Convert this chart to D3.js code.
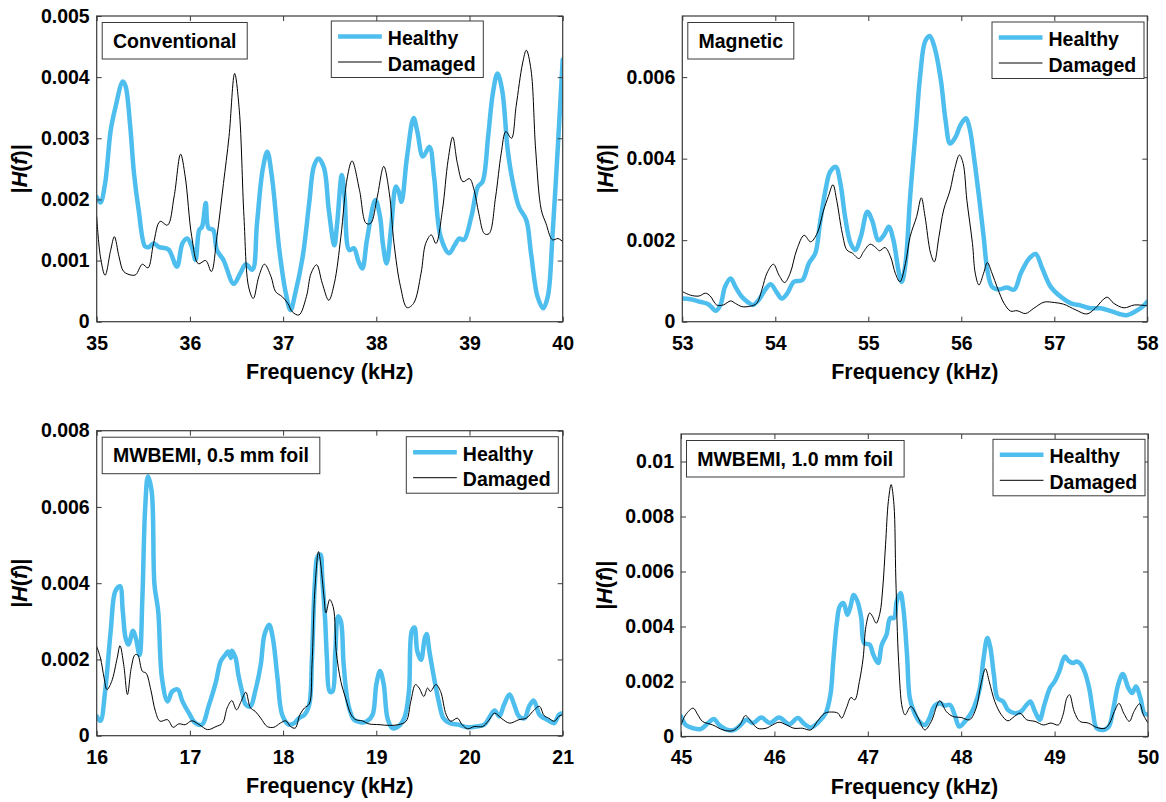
<!DOCTYPE html>
<html>
<head>
<meta charset="utf-8">
<script src="https://cdn.jsdelivr.net/npm/d3@7"></script>
<style>
  html, body { margin: 0; padding: 0; background: #fff; }
  svg { display: block; }
  text { font-family: "Liberation Sans", Arial, Helvetica, sans-serif; font-weight: bold; fill: #000; }
</style>
</head>
<body>
<svg id="chart" width="1166" height="802"></svg>
<script>
// ---------- Data (frequency in kHz, |H(f)| in units of 1e-3) ----------
const seriesNames = ["Healthy", "Damaged"];
const panelTitles = ["Conventional", "Magnetic", "MWBEMI, 0.5 mm foil", "MWBEMI, 1.0 mm foil"];
const xDomains = [[35, 40], [53, 58], [16, 21], [45, 50]];
const yMaxima = [0.005, 0.0075, 0.008, 0.011];
const xTickValues = [[35,36,37,38,39,40],[53,54,55,56,57,58],[16,17,18,19,20,21],[45,46,47,48,49,50]];
const yTickValues = [
  [0, 0.001, 0.002, 0.003, 0.004, 0.005],
  [0, 0.002, 0.004, 0.006],
  [0, 0.002, 0.004, 0.006, 0.008],
  [0, 0.002, 0.004, 0.006, 0.008, 0.01]
];
const xLabel = "Frequency (kHz)";

const convHealthy = [[35.0,2.04],[35.04,1.95],[35.09,2.26],[35.15,3.13],[35.2,3.5],[35.28,3.93],[35.31,3.85],[35.36,3.19],[35.4,2.43],[35.45,1.83],[35.52,1.23],[35.56,1.22],[35.61,1.28],[35.67,1.22],[35.77,1.18],[35.86,0.90],[35.92,1.28],[35.97,1.36],[36.02,1.23],[36.06,1.01],[36.1,1.5],[36.13,1.55],[36.17,1.94],[36.2,1.53],[36.25,1.5],[36.29,1.17],[36.36,1.01],[36.47,0.62],[36.54,0.79],[36.6,0.94],[36.67,0.85],[36.72,1.61],[36.78,2.48],[36.83,2.78],[36.88,2.37],[36.96,1.17],[37.03,0.46],[37.08,0.19],[37.13,0.46],[37.21,1.06],[37.28,1.94],[37.33,2.54],[37.38,2.67],[37.44,2.51],[37.49,1.83],[37.55,1.25],[37.58,1.61],[37.63,2.4],[37.66,2.04],[37.71,1.17],[37.76,1.2],[37.81,0.98],[37.85,0.87],[37.9,1.34],[37.99,1.99],[38.04,1.72],[38.07,1.28],[38.11,0.95],[38.16,1.55],[38.21,2.21],[38.24,2.13],[38.27,1.96],[38.33,2.7],[38.4,3.33],[38.44,3.11],[38.5,2.7],[38.57,2.86],[38.62,2.37],[38.69,1.39],[38.78,1.12],[38.84,1.25],[38.89,1.36],[38.94,1.34],[39.02,1.72],[39.09,2.21],[39.14,2.29],[39.2,3.03],[39.25,3.73],[39.3,4.06],[39.35,3.79],[39.41,2.81],[39.46,2.32],[39.53,1.88],[39.61,1.66],[39.66,1.12],[39.73,0.41],[39.79,0.22],[39.84,0.41],[39.89,1.39],[39.95,2.92],[40.0,4.29]];
const convDamaged = [[35.0,1.72],[35.04,1.06],[35.09,0.76],[35.15,1.17],[35.19,1.39],[35.24,1.06],[35.29,0.82],[35.38,0.76],[35.42,0.77],[35.49,0.94],[35.55,0.88],[35.61,1.28],[35.68,1.64],[35.76,1.58],[35.83,2.04],[35.9,2.74],[35.95,2.37],[36.02,1.39],[36.09,0.95],[36.17,1.0],[36.23,0.82],[36.29,1.39],[36.36,2.26],[36.42,3.03],[36.48,4.06],[36.53,3.46],[36.58,1.72],[36.63,0.57],[36.68,0.38],[36.74,0.74],[36.8,0.94],[36.87,0.74],[36.92,0.49],[36.99,0.41],[37.05,0.3],[37.1,0.16],[37.17,0.11],[37.25,0.41],[37.3,0.79],[37.36,0.93],[37.42,0.63],[37.49,0.35],[37.55,0.63],[37.62,1.39],[37.69,2.37],[37.74,2.63],[37.82,2.15],[37.89,1.61],[37.94,1.61],[38.01,2.04],[38.08,2.54],[38.14,2.1],[38.19,1.28],[38.26,0.57],[38.33,0.23],[38.4,0.3],[38.48,0.79],[38.53,1.28],[38.59,1.42],[38.64,1.28],[38.71,1.83],[38.77,2.64],[38.82,3.02],[38.87,2.59],[38.93,2.29],[39.0,2.34],[39.05,2.15],[39.1,1.77],[39.16,1.44],[39.21,1.44],[39.28,2.04],[39.34,2.75],[39.39,3.11],[39.45,3.0],[39.5,3.52],[39.57,4.23],[39.61,4.44],[39.66,4.12],[39.71,2.81],[39.77,1.83],[39.82,1.61],[39.89,1.34],[39.95,1.36],[40.0,1.31]];

const magHealthy = [[53.0,0.57],[53.09,0.55],[53.19,0.49],[53.28,0.43],[53.36,0.27],[53.41,0.41],[53.46,0.86],[53.52,1.06],[53.57,0.86],[53.64,0.61],[53.71,0.47],[53.76,0.41],[53.82,0.53],[53.89,0.78],[53.95,0.92],[54.01,0.74],[54.07,0.57],[54.13,0.7],[54.2,0.98],[54.29,1.02],[54.36,1.43],[54.43,1.68],[54.48,2.41],[54.54,3.23],[54.59,3.68],[54.65,3.8],[54.7,3.39],[54.75,2.58],[54.81,1.92],[54.86,1.76],[54.92,2.09],[54.99,2.7],[55.04,2.49],[55.11,2.0],[55.17,2.13],[55.22,2.33],[55.27,2.0],[55.33,1.19],[55.36,0.98],[55.4,1.43],[55.45,3.07],[55.51,4.7],[55.56,6.09],[55.61,6.87],[55.66,7.01],[55.71,6.75],[55.78,5.93],[55.83,4.95],[55.88,4.37],[55.94,4.54],[55.99,4.82],[56.05,4.99],[56.09,4.74],[56.14,3.97],[56.19,3.07],[56.24,2.09],[56.28,1.27],[56.33,0.86],[56.4,0.79],[56.49,0.84],[56.57,0.79],[56.64,1.19],[56.73,1.55],[56.8,1.66],[56.87,1.31],[56.96,0.86],[57.07,0.61],[57.18,0.45],[57.28,0.4],[57.39,0.33],[57.5,0.33],[57.61,0.26],[57.7,0.19],[57.78,0.16],[57.87,0.25],[57.95,0.37],[58.0,0.49]];
const magDamaged = [[53.0,0.74],[53.09,0.65],[53.18,0.63],[53.25,0.7],[53.3,0.63],[53.37,0.41],[53.44,0.41],[53.52,0.51],[53.57,0.45],[53.64,0.37],[53.73,0.38],[53.8,0.45],[53.86,0.82],[53.91,1.19],[53.98,1.41],[54.04,1.14],[54.1,0.96],[54.16,1.19],[54.23,1.76],[54.31,2.12],[54.38,1.96],[54.45,2.17],[54.52,2.74],[54.57,3.07],[54.62,3.36],[54.66,2.98],[54.72,2.17],[54.77,1.76],[54.83,1.68],[54.9,1.55],[54.95,1.72],[55.02,1.9],[55.08,1.82],[55.12,1.74],[55.18,1.82],[55.24,1.59],[55.29,1.19],[55.34,0.98],[55.4,1.43],[55.45,2.09],[55.52,2.58],[55.57,3.04],[55.61,2.58],[55.67,1.68],[55.71,1.47],[55.76,2.09],[55.81,2.74],[55.88,3.23],[55.93,3.76],[55.98,4.09],[56.02,3.88],[56.06,2.98],[56.12,1.92],[56.15,1.19],[56.19,0.9],[56.24,1.19],[56.28,1.45],[56.33,1.19],[56.39,0.82],[56.46,0.45],[56.53,0.26],[56.6,0.27],[56.69,0.2],[56.78,0.33],[56.89,0.48],[57.0,0.47],[57.1,0.43],[57.23,0.29],[57.35,0.19],[57.44,0.33],[57.52,0.53],[57.57,0.6],[57.64,0.45],[57.75,0.34],[57.86,0.41],[58.0,0.39]];

const foil05Healthy = [[16.0,0.51],[16.04,0.39],[16.09,1.16],[16.15,2.74],[16.2,3.79],[16.25,3.92],[16.28,3.26],[16.31,2.56],[16.34,2.39],[16.39,2.75],[16.42,2.56],[16.46,2.12],[16.49,3.61],[16.52,5.97],[16.55,6.8],[16.59,6.41],[16.62,3.96],[16.66,3.26],[16.7,1.51],[16.76,0.9],[16.81,1.16],[16.87,1.21],[16.92,0.9],[16.99,0.59],[17.06,0.33],[17.13,0.29],[17.2,0.77],[17.28,1.42],[17.33,1.95],[17.38,2.12],[17.41,2.21],[17.44,2.04],[17.45,2.23],[17.49,2.04],[17.52,1.6],[17.56,1.16],[17.6,0.81],[17.65,0.77],[17.7,1.16],[17.76,1.86],[17.8,2.65],[17.85,2.91],[17.89,2.56],[17.94,1.51],[17.99,0.55],[18.06,0.29],[18.12,0.33],[18.17,0.46],[18.23,0.55],[18.28,0.81],[18.31,2.04],[18.34,3.96],[18.37,4.7],[18.4,4.75],[18.42,4.13],[18.45,3.09],[18.47,2.04],[18.5,1.16],[18.53,1.16],[18.56,2.21],[18.59,3.13],[18.62,3.0],[18.65,1.86],[18.7,0.81],[18.76,0.42],[18.83,0.35],[18.9,0.38],[18.96,0.55],[19.0,1.34],[19.04,1.7],[19.08,1.34],[19.12,0.46],[19.17,0.2],[19.23,0.23],[19.3,0.46],[19.35,1.16],[19.38,2.74],[19.41,2.84],[19.44,2.21],[19.48,1.99],[19.52,2.56],[19.54,2.67],[19.57,2.21],[19.62,1.51],[19.67,0.9],[19.72,0.46],[19.79,0.33],[19.88,0.29],[19.98,0.22],[20.07,0.24],[20.16,0.29],[20.22,0.51],[20.27,0.66],[20.32,0.51],[20.37,0.81],[20.43,1.08],[20.48,0.81],[20.53,0.51],[20.59,0.46],[20.64,0.77],[20.69,0.92],[20.75,0.55],[20.8,0.46],[20.86,0.38],[20.91,0.33],[20.96,0.55],[21.0,0.59]];
const foil05Damaged = [[16.0,2.34],[16.04,2.04],[16.08,1.51],[16.11,1.21],[16.16,1.42],[16.22,2.04],[16.25,2.36],[16.29,1.86],[16.33,1.08],[16.37,1.77],[16.41,2.12],[16.44,2.12],[16.49,1.69],[16.53,1.64],[16.58,1.21],[16.63,0.64],[16.68,0.38],[16.76,0.42],[16.82,0.22],[16.88,0.31],[16.95,0.29],[17.02,0.39],[17.1,0.29],[17.19,0.16],[17.28,0.24],[17.35,0.33],[17.4,0.73],[17.45,0.92],[17.5,0.68],[17.55,0.9],[17.6,1.14],[17.65,0.73],[17.7,0.64],[17.76,0.46],[17.83,0.24],[17.9,0.22],[17.97,0.33],[18.03,0.39],[18.08,0.24],[18.13,0.2],[18.18,0.55],[18.23,0.73],[18.28,0.83],[18.31,1.86],[18.34,3.79],[18.38,4.83],[18.4,4.57],[18.44,3.61],[18.46,3.22],[18.5,3.57],[18.54,3.35],[18.57,2.21],[18.62,1.42],[18.67,0.99],[18.73,0.55],[18.78,0.42],[18.85,0.39],[18.92,0.31],[19.03,0.29],[19.14,0.27],[19.24,0.29],[19.32,0.38],[19.37,0.9],[19.42,1.34],[19.46,1.25],[19.51,1.03],[19.55,1.25],[19.58,1.16],[19.64,1.34],[19.69,1.16],[19.75,0.55],[19.8,0.38],[19.87,0.46],[19.92,0.29],[19.98,0.18],[20.05,0.24],[20.14,0.24],[20.2,0.38],[20.27,0.59],[20.34,0.46],[20.43,0.33],[20.53,0.42],[20.61,0.46],[20.68,0.64],[20.75,0.77],[20.8,0.53],[20.85,0.46],[20.91,0.38],[20.96,0.51],[21.0,0.55]];

const foil10Healthy = [[45.0,0.73],[45.05,0.42],[45.13,0.3],[45.21,0.27],[45.29,0.49],[45.35,0.64],[45.41,0.42],[45.5,0.24],[45.57,0.24],[45.64,0.42],[45.7,0.61],[45.77,0.49],[45.86,0.69],[45.95,0.49],[46.05,0.69],[46.16,0.45],[46.25,0.67],[46.32,0.46],[46.39,0.33],[46.48,0.55],[46.55,0.85],[46.6,1.52],[46.63,2.73],[46.67,4.18],[46.7,4.73],[46.74,4.85],[46.78,4.43],[46.81,4.67],[46.85,5.15],[46.89,4.91],[46.93,4.31],[46.96,3.4],[47.02,3.34],[47.06,2.97],[47.11,2.67],[47.15,3.34],[47.2,3.7],[47.24,4.31],[47.28,4.31],[47.31,4.91],[47.35,5.22],[47.38,4.67],[47.42,2.97],[47.45,1.39],[47.5,0.85],[47.55,0.55],[47.61,0.42],[47.66,0.67],[47.71,1.09],[47.77,1.21],[47.82,1.13],[47.88,1.15],[47.93,0.79],[47.98,0.36],[48.04,0.55],[48.09,0.76],[48.14,1.09],[48.2,1.76],[48.24,2.85],[48.28,3.58],[48.31,3.27],[48.35,2.24],[48.39,1.39],[48.45,1.27],[48.5,0.97],[48.57,0.85],[48.64,0.91],[48.7,1.15],[48.74,1.27],[48.79,0.91],[48.84,0.61],[48.89,1.15],[48.95,1.76],[49.0,2.0],[49.05,2.37],[49.11,2.91],[49.15,2.75],[49.2,2.67],[49.23,2.73],[49.27,2.67],[49.32,2.37],[49.37,1.76],[49.41,0.91],[49.45,0.3],[49.52,0.24],[49.58,0.36],[49.63,1.03],[49.68,1.88],[49.73,2.27],[49.79,1.76],[49.83,1.58],[49.87,1.82],[49.92,1.39],[49.96,0.85],[50.0,0.79]];
const foil10Damaged = [[45.0,0.42],[45.05,0.79],[45.13,1.03],[45.18,0.79],[45.23,0.55],[45.34,0.42],[45.45,0.24],[45.55,0.21],[45.63,0.42],[45.69,0.76],[45.75,0.55],[45.82,0.3],[45.91,0.3],[45.98,0.42],[46.05,0.52],[46.13,0.42],[46.21,0.3],[46.3,0.3],[46.39,0.24],[46.46,0.55],[46.54,0.85],[46.61,0.89],[46.68,0.85],[46.72,0.67],[46.77,1.03],[46.82,1.42],[46.86,1.33],[46.91,2.0],[46.95,2.85],[46.98,4.0],[47.02,4.49],[47.05,4.37],[47.09,4.12],[47.13,4.49],[47.16,5.4],[47.19,6.97],[47.22,8.55],[47.25,9.16],[47.28,8.43],[47.3,5.76],[47.33,2.73],[47.37,1.03],[47.4,0.79],[47.46,1.09],[47.54,0.67],[47.61,0.24],[47.68,0.55],[47.77,1.3],[47.84,0.91],[47.91,0.73],[48.0,0.69],[48.09,0.61],[48.16,1.03],[48.21,1.88],[48.26,2.46],[48.3,2.0],[48.36,1.27],[48.43,0.79],[48.5,0.57],[48.57,0.73],[48.63,0.85],[48.7,0.61],[48.79,0.55],[48.88,0.42],[48.96,0.49],[49.04,0.42],[49.09,0.79],[49.13,1.39],[49.16,1.52],[49.21,0.91],[49.27,0.55],[49.36,0.49],[49.45,0.33],[49.54,0.3],[49.59,0.49],[49.64,0.91],[49.69,1.2],[49.74,0.85],[49.8,0.55],[49.85,0.91],[49.91,1.19],[49.95,0.79],[50.0,0.49]];

const healthySeries = [convHealthy, magHealthy, foil05Healthy, foil10Healthy];
const damagedSeries = [convDamaged, magDamaged, foil05Damaged, foil10Damaged];
const valueUnit = 1e-3;

// ---------- Layout ----------
const frames = [
  {l: 96.7, r: 562.7, t: 16, b: 321.7, legendRight: 483.3, legendTop: 21},
  {l: 682.3, r: 1147.3, t: 16, b: 321.7, legendRight: 1144, legendTop: 22},
  {l: 96.7, r: 562.7, t: 430.7, b: 735.7, legendRight: 558.3, legendTop: 436.7},
  {l: 681, r: 1148, t: 434, b: 736.5, legendRight: 1145, legendTop: 439.3}
];
const colors = { healthy: "#4DBEEE", damaged: "#000000", axis: "#3a3a3a" };

const svg = d3.select("#chart");
const fmtY = d => d === 0 ? "0" : String(+d.toFixed(4));

frames.forEach((f, i) => {
  const x = d3.scaleLinear().domain(xDomains[i]).range([f.l, f.r]);
  const y = d3.scaleLinear().domain([0, yMaxima[i]]).range([f.b, f.t]);
  const g = svg.append("g");

  const clipId = "clip" + i;
  svg.append("clipPath").attr("id", clipId).append("rect")
    .attr("x", f.l).attr("y", f.t).attr("width", f.r - f.l).attr("height", f.b - f.t);

  const line = d3.line()
    .x(d => x(d[0])).y(d => y(d[1] * valueUnit))
    .curve(d3.curveCatmullRom.alpha(0.5));

  const lines = g.append("g").attr("clip-path", `url(#${clipId})`);
  lines.append("path").datum(healthySeries[i])
    .attr("d", line).attr("fill", "none")
    .attr("stroke", colors.healthy).attr("stroke-width", 4.5)
    .attr("stroke-linejoin", "round").attr("stroke-linecap", "round");
  lines.append("path").datum(damagedSeries[i])
    .attr("d", line).attr("fill", "none")
    .attr("stroke", colors.damaged).attr("stroke-width", 1);

  // axes (ticks inside, mirrored on top/right)
  const tl = 5;
  const bottom = d3.axisBottom(x).tickValues(xTickValues[i]).tickSize(-tl).tickPadding(14).tickFormat(d3.format("d"));
  const top = d3.axisTop(x).tickValues(xTickValues[i]).tickSize(-tl).tickFormat("");
  const left = d3.axisLeft(y).tickValues(yTickValues[i]).tickSize(-tl).tickPadding(7).tickFormat(fmtY);
  const right = d3.axisRight(y).tickValues(yTickValues[i]).tickSize(-tl).tickFormat("");

  const styleAxis = sel => {
    sel.select(".domain").remove();
    sel.selectAll(".tick line").attr("stroke", colors.axis).attr("stroke-width", 1);
    sel.selectAll(".tick text").style("font-size", "19.5px").style("font-weight", "bold")
      .attr("fill", "#262626").style("font-family", '"Liberation Sans", Arial, sans-serif');
  };
  g.append("g").attr("transform", `translate(0,${f.b})`).call(bottom).call(styleAxis);
  g.append("g").attr("transform", `translate(0,${f.t})`).call(top).call(styleAxis);
  g.append("g").attr("transform", `translate(${f.l},0)`).call(left).call(styleAxis);
  g.append("g").attr("transform", `translate(${f.r},0)`).call(right).call(styleAxis);

  // box
  g.append("rect").attr("x", f.l).attr("y", f.t).attr("width", f.r - f.l).attr("height", f.b - f.t)
    .attr("fill", "none").attr("stroke", colors.axis).attr("stroke-width", 1.2);

  // x label
  g.append("text").attr("x", (f.l + f.r) / 2).attr("y", f.b + 57.5)
    .attr("text-anchor", "middle").style("font-size", "21.5px").attr("fill", "#262626").text(xLabel);

  // y label |H(f)|
  const yl = g.append("text")
    .attr("transform", `translate(${f.l - 69.5},${(f.t + f.b) / 2}) rotate(-90)`)
    .attr("text-anchor", "middle").style("font-size", "21.5px").attr("fill", "#262626");
  yl.append("tspan").text("|");
  yl.append("tspan").style("font-style", "italic").text("H");
  yl.append("tspan").text("(");
  yl.append("tspan").style("font-style", "italic").text("f");
  yl.append("tspan").text(")|");

  // title box
  const tx = f.l + 5.5, ty = f.t + 6.5, th = 36.5;
  const tBox = g.append("rect").attr("fill", "#fff").attr("stroke", colors.axis).attr("stroke-width", 1);
  const tText = g.append("text").attr("x", tx + 10.7).attr("y", ty + th / 2 + 7)
    .style("font-size", "19.5px").text(panelTitles[i]);
  const tw = tText.node().getComputedTextLength();
  tBox.attr("x", tx).attr("y", ty).attr("width", tw + 21.5).attr("height", th);

  // legend
  const lw = 152, lh = 56.5;
  const lx = f.legendRight - lw, ly = f.legendTop;
  g.append("rect").attr("x", lx).attr("y", ly).attr("width", lw).attr("height", lh)
    .attr("fill", "#fff").attr("stroke", colors.axis).attr("stroke-width", 1);
  const rows = [
    {name: seriesNames[0], color: colors.healthy, w: 4.5},
    {name: seriesNames[1], color: colors.damaged, w: 1}
  ];
  rows.forEach((r, k) => {
    const cy = ly + 15.5 + k * 25.5;
    g.append("line").attr("x1", lx + 6.8).attr("x2", lx + 50.5).attr("y1", cy).attr("y2", cy)
      .attr("stroke", r.color).attr("stroke-width", r.w);
    g.append("text").attr("x", lx + 56.5).attr("y", cy + 8.5)
      .style("font-size", "19.5px").text(r.name);
  });
});
</script>
</body>
</html>
